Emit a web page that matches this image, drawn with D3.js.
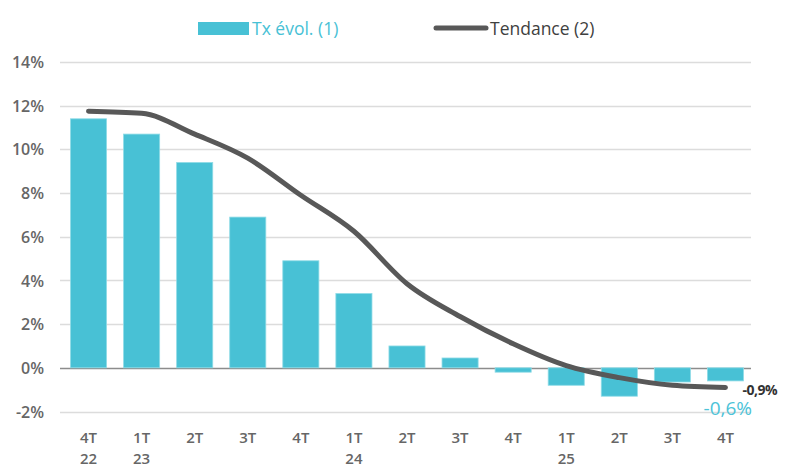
<!DOCTYPE html>
<html>
<head>
<meta charset="utf-8">
<script src="https://cdn.jsdelivr.net/npm/d3@7"></script>
<style>
  body { margin: 0; background: #fff; }
  text { font-family: "Open Sans", sans-serif; }
</style>
</head>
<body>
<div id="chart"></div>
<script>
var quarters = ["4T","1T","2T","3T","4T","1T","2T","3T","4T","1T","2T","3T","4T"];
var years = ["22","23","","","","24","","","","25","","",""];
var txEvol = [11.4, 10.7, 9.4, 6.9, 4.9, 3.4, 1.0, 0.45, -0.2, -0.8, -1.3, -0.65, -0.6];
var tendance = [11.75, 11.65, 10.7, 9.6, 7.9, 6.25, 3.85, 2.35, 1.1, 0.1, -0.45, -0.8, -0.9];
var yTicks = [-2, 0, 2, 4, 6, 8, 10, 12, 14];

var width = 785, height = 470;
var barColour = "#48c1d5", lineColour = "#585858", textColour = "#595959";

var svg = d3.select('#chart').append('svg')
    .attr('width', width)
    .attr('height', height);

var idx = d3.range(quarters.length);

var xScale = d3.scaleBand().domain(idx).range([62, 752]).paddingInner(0.32).paddingOuter(0.16),
    yScale = d3.scaleLinear().domain([-2, 14]).range([411.5, 62]);

// grid lines
svg.append('g').selectAll('line')
    .data(yTicks)
  .enter().append('line')
    .attr('x1', 60).attr('x2', 751)
    .attr('y1', function(d) { return Math.round(yScale(d)) + 0.5; })
    .attr('y2', function(d) { return Math.round(yScale(d)) + 0.5; })
    .style('stroke', function(d) { return d === 0 ? '#8c8c8c' : '#dcdcdc'; })
    .style('stroke-width', function(d) { return d === 0 ? 1.5 : 1.3; });

// y axis labels
var yAxis = svg.append('g')
    .attr('transform', 'translate(44,0)')
    .call(d3.axisLeft(yScale).tickValues(yTicks).tickSize(0).tickFormat(function(d) { return d + '%'; }));
yAxis.select('.domain').remove();
yAxis.selectAll('text')
    .attr('x', 0)
    .attr('dy', '0.35em')
    .style('font-family', '"Open Sans", sans-serif')
    .style('font-size', '16px')
    .style('font-weight', '600')
    .style('fill', '#666');

// bars
svg.append('g').selectAll('rect')
    .data(txEvol)
  .enter().append('rect')
    .attr('x', function(d, i) { return xScale(i); })
    .attr('width', xScale.bandwidth())
    .attr('y', function(d) { return yScale(Math.max(0, d)); })
    .attr('height', function(d) { return Math.abs(yScale(d) - yScale(0)); })
    .style('fill', barColour)
    .style('stroke', '#8fdbe6')
    .style('stroke-width', 0.8);

// trend line
var line = d3.line()
    .x(function(d, i) { return xScale(i) + xScale.bandwidth() / 2; })
    .y(function(d) { return yScale(d); })
    .curve(d3.curveMonotoneX);

svg.append('path')
    .datum(tendance)
    .attr('d', line)
    .style('fill', 'none')
    .style('stroke', lineColour)
    .style('stroke-width', 5)
    .style('stroke-linecap', 'round');

// x labels
var xLabels = svg.append('g').selectAll('g')
    .data(idx)
  .enter().append('g')
    .attr('transform', function(i) { return 'translate(' + (xScale(i) + xScale.bandwidth() / 2) + ',0)'; });
xLabels.append('text')
    .attr('y', 443)
    .style('text-anchor', 'middle')
    .style('font-size', '15px')
    .style('font-weight', '600')
    .style('fill', '#666')
    .text(function(i) { return quarters[i]; });
xLabels.append('text')
    .attr('y', 464)
    .style('text-anchor', 'middle')
    .style('font-size', '15px')
    .style('font-weight', '600')
    .style('fill', '#666')
    .text(function(i) { return years[i]; });

// end labels
var last = quarters.length - 1;
svg.append('text')
    .attr('x', xScale(last) + xScale.bandwidth() / 2 + 17)
    .attr('y', yScale(tendance[last]) + 8)
    .style('font-size', '14px')
    .style('font-weight', 'bold')
    .style('letter-spacing', '-0.5px')
    .style('fill', '#333')
    .text('-0,9%');
svg.append('text')
    .attr('x', 752)
    .attr('y', 415)
    .style('text-anchor', 'end')
    .style('font-size', '19px')
    .style('fill', '#4cc3d8')
    .text('-0,6%');

// legend
var legend = svg.append('g');
legend.append('rect')
    .attr('x', 198).attr('y', 22)
    .attr('width', 51).attr('height', 13)
    .style('fill', barColour);
legend.append('text')
    .attr('x', 252).attr('y', 35)
    .style('font-size', '17.5px')
    .style('fill', barColour)
    .text('Tx évol. (1)');
legend.append('line')
    .attr('x1', 436).attr('x2', 486)
    .attr('y1', 28).attr('y2', 28)
    .style('stroke', lineColour)
    .style('stroke-width', 5)
    .style('stroke-linecap', 'round');
legend.append('text')
    .attr('x', 490).attr('y', 35)
    .style('font-size', '17.5px')
    .style('fill', '#404040')
    .text('Tendance (2)');
</script>
</body>
</html>
